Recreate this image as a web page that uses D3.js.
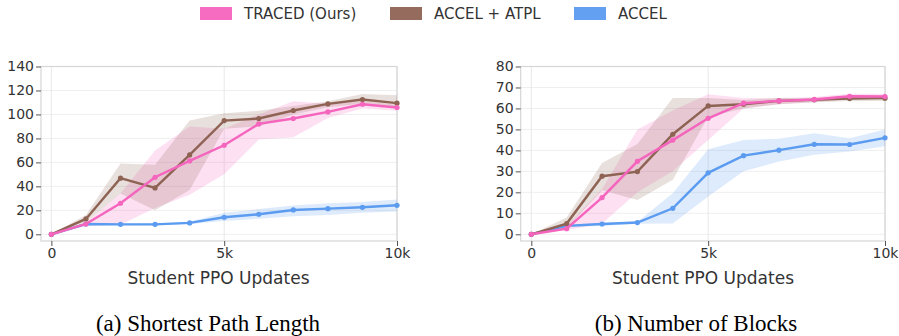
<!DOCTYPE html>
<html>
<head>
<meta charset="utf-8">
<script src="https://cdn.jsdelivr.net/npm/d3@7"></script>
<style>
  body { margin: 0; background: #fff; }
  svg text { fill: #333; }
</style>
</head>
<body>
<div id="chart"></div>
<script>
// x steps in thousands of student PPO updates
const steps = [0, 1, 2, 3, 4, 5, 6, 7, 8, 9, 10];
const seriesNames = ['TRACED (Ours)', 'ACCEL + ATPL', 'ACCEL'];
const seriesColors = ['#f564bd', '#8e6354', '#5b9bf0'];
const xTicks = [0, 5, 10];
const xTickLabels = ['0', '5k', '10k'];

// (a) Shortest Path Length
const pathTraced = [0, 8.6, 25.9, 47.6, 61.2, 74.3, 92.1, 96.6, 102.1, 108.5, 105.8];
const pathTracedLo = [0, 7, 8, 22, 33, 50, 79, 81, 97, 105, 103];
const pathTracedHi = [0, 10, 34, 70, 90, 88, 100, 111, 109, 111, 108];
const pathAtpl = [0, 12.8, 46.8, 38.7, 66.2, 94.9, 96.6, 103.3, 108.8, 112.4, 109.4];
const pathAtplLo = [0, 10, 34, 20, 37, 88, 90, 100, 106, 109, 105];
const pathAtplHi = [0, 16, 59, 58, 95, 101, 103, 107, 111, 117, 116];
const pathAccel = [0, 8.6, 8.3, 8.3, 9.5, 14.2, 16.7, 20.3, 21.4, 22.5, 24.2];
const pathAccelLo = [0, 7.8, 7.5, 7.5, 8.5, 11, 13, 15, 16, 18, 19];
const pathAccelHi = [0, 9.4, 9.1, 9.1, 10.5, 18, 21, 24, 26, 27, 29];
const pathTicks = [0, 20, 40, 60, 80, 100, 120, 140];

// (b) Number of Blocks
const blockTraced = [0, 2.7, 17.5, 34.8, 44.9, 55.3, 62.5, 63.6, 64.3, 65.8, 65.7];
const blockTracedLo = [0, 2, 5, 20, 30, 45, 60, 62, 63, 64.5, 64.5];
const blockTracedHi = [0, 4, 21.5, 50, 59, 66.8, 65, 65, 65.5, 67, 67];
const blockAtpl = [0, 5.1, 27.7, 29.9, 47.7, 61.2, 62, 63.6, 64.1, 64.7, 64.9];
const blockAtplLo = [0, 3, 21, 16.4, 26, 56, 60, 62, 63, 63.5, 63.5];
const blockAtplHi = [0, 8, 34, 43, 65, 65, 64, 65, 65, 66, 66];
const blockAccel = [0, 4.0, 4.9, 5.6, 12.4, 29.3, 37.5, 40.1, 42.9, 42.8, 46];
const blockAccelLo = [0, 3.5, 4, 5, 5.2, 18, 30, 34.7, 37.9, 39.5, 42];
const blockAccelHi = [0, 4.5, 5.5, 6, 19.6, 40.6, 45, 45.5, 48.2, 45.8, 50];
const blockTicks = [0, 10, 20, 30, 40, 50, 60, 70, 80];

const width = 899, height = 336;

const svg = d3.select('#chart').append('svg')
  .attr('width', width)
  .attr('height', height)
  .style('font-family', '"DejaVu Sans", sans-serif');

// legend
const legendX = [200, 390, 574];
seriesNames.forEach(function(name, i) {
  let g = svg.append('g').attr('transform', 'translate(' + legendX[i] + ',7)');
  g.append('rect')
    .attr('width', 32).attr('height', 13)
    .attr('fill', seriesColors[i]).attr('fill-opacity', 0.95);
  g.append('text')
    .attr('x', 44).attr('y', 12)
    .style('font-size', '15px')
    .text(name);
});

function drawPanel(opts) {
  let x = d3.scaleLinear().domain([-0.3, 10]).range([opts.left, opts.right]);
  let y = d3.scaleLinear().domain([opts.yMin, opts.yMax]).range([241, 66.5]);
  let g = svg.append('g');

  // grid
  g.selectAll('line.hgrid').data(opts.yTicks).enter().append('line')
    .attr('x1', opts.left).attr('x2', opts.right)
    .attr('y1', d => y(d)).attr('y2', d => y(d))
    .attr('stroke', '#efefef').attr('stroke-width', 1);
  g.selectAll('line.vgrid').data(xTicks).enter().append('line')
    .attr('x1', d => x(d)).attr('x2', d => x(d))
    .attr('y1', 66.5).attr('y2', 241)
    .attr('stroke', '#e8e8e8').attr('stroke-width', 1);

  // frame
  g.append('rect')
    .attr('x', opts.left).attr('y', 66.5)
    .attr('width', opts.right - opts.left).attr('height', 241 - 66.5)
    .attr('fill', 'none').attr('stroke', '#d6d6d6').attr('stroke-width', 1.2);

  let area = d3.area()
    .x(d => x(d.x))
    .y0(d => y(d.lo))
    .y1(d => y(d.hi));
  let line = d3.line()
    .x(d => x(d.x))
    .y(d => y(d.v));

  let series = opts.series.map(function(s, i) {
    return steps.map(function(st, j) {
      return {x: st, v: s.mean[j], lo: s.lo[j], hi: s.hi[j]};
    });
  });

  series.forEach(function(pts, i) {
    g.append('path').datum(pts)
      .attr('d', area)
      .attr('fill', seriesColors[i]).attr('fill-opacity', 0.2)
      .attr('stroke', 'none');
  });

  [2, 1, 0].forEach(function(i) {
    g.append('path').datum(series[i])
      .attr('d', line)
      .attr('fill', 'none')
      .attr('stroke', seriesColors[i]).attr('stroke-width', 2.4);
    g.selectAll(null).data(series[i]).enter().append('circle')
      .attr('cx', d => x(d.x)).attr('cy', d => y(d.v))
      .attr('r', 2.6)
      .attr('fill', seriesColors[i]);
  });

  // y axis
  let yAxis = d3.axisLeft(y).tickValues(opts.yTicks).tickSize(5).tickPadding(2);
  let ya = g.append('g')
    .attr('transform', 'translate(' + opts.left + ',0)')
    .call(yAxis);
  ya.select('.domain').remove();
  ya.selectAll('.tick line').attr('stroke', '#555');
  ya.selectAll('.tick text').style('font-size', '14px').attr('fill', '#333')
    .attr('font-family', '"DejaVu Sans", sans-serif');

  // x axis
  let xAxis = d3.axisBottom(x).tickValues(xTicks)
    .tickFormat((d, i) => xTickLabels[i]).tickSize(5).tickPadding(2);
  let xa = g.append('g')
    .attr('transform', 'translate(0,241)')
    .call(xAxis);
  xa.select('.domain').remove();
  xa.selectAll('.tick line').attr('stroke', '#555');
  xa.selectAll('.tick text').style('font-size', '14px').attr('fill', '#333')
    .attr('font-family', '"DejaVu Sans", sans-serif');

  g.append('text')
    .attr('x', opts.titleX).attr('y', 284)
    .attr('text-anchor', 'middle')
    .style('font-size', '17px')
    .text('Student PPO Updates');

  g.append('text')
    .attr('x', opts.captionX).attr('y', 331)
    .attr('text-anchor', 'middle')
    .style('font-family', '"Liberation Serif", "Times New Roman", serif')
    .style('font-size', '23px')
    .attr('fill', '#000')
    .style('fill', '#000')
    .text(opts.caption);
}

drawPanel({
  left: 41, right: 397, yMin: -5.6, yMax: 140, yTicks: pathTicks,
  titleX: 218.5, captionX: 208, caption: '(a) Shortest Path Length',
  series: [
    {mean: pathTraced, lo: pathTracedLo, hi: pathTracedHi},
    {mean: pathAtpl, lo: pathAtplLo, hi: pathAtplHi},
    {mean: pathAccel, lo: pathAccelLo, hi: pathAccelHi}
  ]
});

drawPanel({
  left: 520.7, right: 885, yMin: -3.2, yMax: 80, yTicks: blockTicks,
  titleX: 703, captionX: 696, caption: '(b) Number of Blocks',
  series: [
    {mean: blockTraced, lo: blockTracedLo, hi: blockTracedHi},
    {mean: blockAtpl, lo: blockAtplLo, hi: blockAtplHi},
    {mean: blockAccel, lo: blockAccelLo, hi: blockAccelHi}
  ]
});
</script>
</body>
</html>
